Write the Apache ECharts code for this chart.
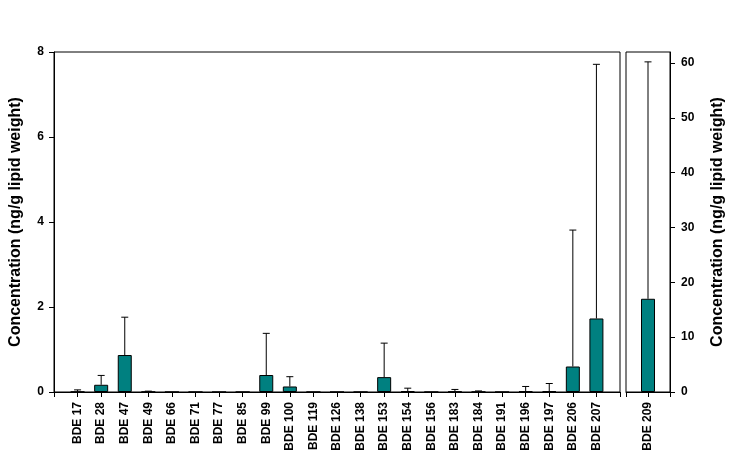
<!DOCTYPE html>
<html>
<head>
<meta charset="utf-8">
<script src="https://cdn.jsdelivr.net/npm/echarts@6/dist/echarts.min.js"></script>
<style>html,body{margin:0;padding:0;background:#fff}#c{width:730px;height:472px}</style>
</head>
<body>
<div id="c"></div>
<script>
// ---- data ----
const categories = ['BDE 17','BDE 28','BDE 47','BDE 49','BDE 66','BDE 71','BDE 77','BDE 85','BDE 99','BDE 100','BDE 119','BDE 126','BDE 138','BDE 153','BDE 154','BDE 156','BDE 183','BDE 184','BDE 191','BDE 196','BDE 197','BDE 206','BDE 207'];
const means = [0.005,0.17,0.87,0.005,0,0,0,0,0.4,0.13,0,0,0,0.35,0.02,0,0.01,0.005,0,0.015,0.02,0.6,1.73];
const upperErr = [0.05,0.39,1.76,0.02,null,null,null,null,1.38,0.36,null,null,null,1.15,0.09,null,0.06,0.025,null,0.13,0.2,3.81,7.71];
const categoriesRight = ['BDE 209'];
const meansRight = [17.0];
const upperErrRight = [60.2];
const leftTicks = [0,2,4,6,8];
const rightTicks = [0,10,20,30,40,50,60];

// ---- build ----
const FONT = 'Liberation Sans, Arial, sans-serif';
const padCats = [''].concat(categories, ['']);
const padCatsR = [''].concat(categoriesRight, ['']);
const barData = [null].concat(means, [null]);
const barDataR = [null].concat(meansRight, [null]);
const errData = [];
upperErr.forEach((u, i) => { if (u != null) errData.push([i + 1, means[i], u]); });
const errDataR = [];
upperErrRight.forEach((u, i) => { if (u != null) errDataR.push([i + 1, meansRight[i], u]); });

function renderErr(params, api) {
  const x = api.value(0), lo = api.value(1), hi = api.value(2);
  const p0 = api.coord([x, lo]);
  const p1 = api.coord([x, hi]);
  const st = { stroke: '#000', lineWidth: 1 };
  return { type: 'group', children: [
    { type: 'line', shape: { x1: p0[0], y1: p0[1], x2: p1[0], y2: p1[1] }, style: st },
    { type: 'line', shape: { x1: p1[0] - 3.5, y1: p1[1], x2: p1[0] + 3.5, y2: p1[1] }, style: st }
  ]};
}

const axisLineBlack = { show: true, lineStyle: { color: '#000', width: 1 } };
const catAxisCommon = {
  type: 'category', boundaryGap: false,
  axisLine: axisLineBlack,
  axisTick: { show: true, inside: false, length: 5, interval: 0, lineStyle: { color: '#000' } },
  axisLabel: { interval: 0, rotate: 90, margin: 10, fontSize: 12, fontWeight: 'bold', color: '#000', fontFamily: FONT },
  splitLine: { show: false }
};

const option = {
  animation: false,
  backgroundColor: '#fff',
  grid: [
    { left: 52, top: 52, width: 568, height: 340, show: true, borderColor: '#000', borderWidth: 1, containLabel: false },
    { left: 626, top: 52, width: 44, height: 340, show: true, borderColor: '#000', borderWidth: 1, containLabel: false }
  ],
  xAxis: [
    Object.assign({}, catAxisCommon, { gridIndex: 0, data: padCats }),
    Object.assign({}, catAxisCommon, { gridIndex: 1, data: padCatsR })
  ],
  yAxis: [
    { type: 'value', gridIndex: 0, min: leftTicks[0], max: leftTicks[leftTicks.length - 1], interval: 2,
      axisLine: axisLineBlack,
      axisTick: { show: true, length: 5, lineStyle: { color: '#000' } },
      axisLabel: { margin: 10, fontSize: 12, fontWeight: 'bold', color: '#000', fontFamily: FONT },
      splitLine: { show: false },
      name: 'Concentration (ng/g lipid weight)', nameLocation: 'middle', nameGap: 30,
      nameTextStyle: { fontSize: 16, fontWeight: 'bold', color: '#000', fontFamily: FONT }
    },
    { type: 'value', gridIndex: 1, position: 'right', min: 0, max: 62,
      axisLine: axisLineBlack,
      axisTick: { show: true, length: 5, customValues: rightTicks, lineStyle: { color: '#000' } },
      axisLabel: { margin: 11, fontSize: 12, fontWeight: 'bold', color: '#000', fontFamily: FONT, customValues: rightTicks },
      splitLine: { show: false },
      name: 'Concentration (ng/g lipid weight)', nameLocation: 'middle', nameGap: 40,
      nameTextStyle: { fontSize: 16, fontWeight: 'bold', color: '#000', fontFamily: FONT }
    }
  ],
  series: [
    { type: 'bar', xAxisIndex: 0, yAxisIndex: 0, data: barData, barWidth: 14,
      itemStyle: { color: '#008080', borderColor: '#000', borderWidth: 1 } },
    { type: 'custom', xAxisIndex: 0, yAxisIndex: 0, data: errData, renderItem: renderErr, z: 5 },
    { type: 'bar', xAxisIndex: 1, yAxisIndex: 1, data: barDataR, barWidth: 14,
      itemStyle: { color: '#008080', borderColor: '#000', borderWidth: 1 } },
    { type: 'custom', xAxisIndex: 1, yAxisIndex: 1, data: errDataR, renderItem: renderErr, z: 5 }
  ]
};
const chart = echarts.init(document.getElementById('c'), null, { renderer: 'canvas' });
chart.setOption(option);
</script>
</body>
</html>
